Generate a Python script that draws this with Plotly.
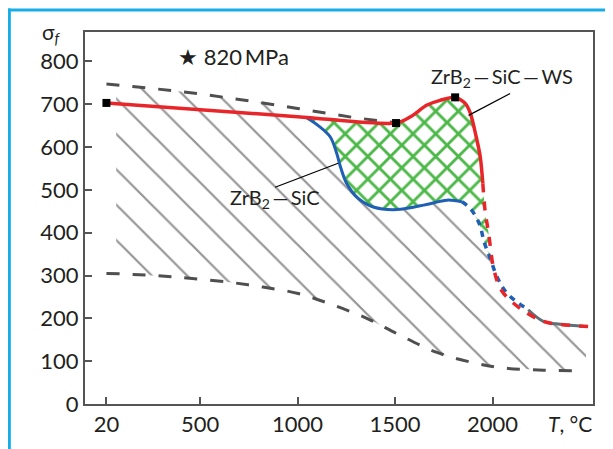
import plotly.graph_objects as go

# ---- data ----
x_ticks = [20, 500, 1000, 1500, 2000]
y_ticks = [0, 100, 200, 300, 400, 500, 600, 700, 800]

upper_T = [20, 270, 500, 750, 1000, 1300, 1500]
upper_v = [747, 736, 724, 708, 690, 668, 657]

upper_tail_T = [2183, 2260, 2347, 2475]
upper_tail_v = [220, 193, 186, 181]

lower_T = [20, 270, 460, 655, 822, 1003, 1177, 1355, 1515, 1711, 1896, 2060, 2262, 2466]
lower_v = [305, 300, 293, 284, 273, 258, 232, 200, 163, 121, 97, 84, 79, 77]

ws_T = [20, 1000, 1505, 1577, 1664, 1731, 1808, 1860, 1886, 1916, 1937, 1950]
ws_v = [703, 671, 656, 670, 698, 709, 716, 702, 679, 624, 577, 515]

ws_dash_T = [1950, 1962, 1980, 2006, 2046, 2142, 2260, 2347, 2490]
ws_dash_v = [515, 450, 398, 316, 265, 223, 193, 186, 181]

sic_T = [1040, 1106, 1167, 1201, 1218, 1252, 1311, 1388, 1509, 1662, 1766, 1843]
sic_v = [670, 650, 624, 585, 557, 515, 480, 460, 454, 466, 476, 472]

sic_dash_T = [1843, 1885, 1932, 1957, 1988, 2024, 2075, 2183]
sic_dash_v = [472, 457, 421, 378, 340, 296, 258, 220]

markers_T = [20, 1505, 1808]
markers_v = [703, 656, 716]

FONT = "Lato"
TXT = "#231f20"

fig = go.Figure()

# ---- gray hatched band ----
hx = [70] + [t for t in upper_T[1:] if t < 1040] + sic_T + sic_dash_T[1:] + upper_tail_T[1:] \
     + [2466] + lower_T[::-1][1:-1] + [70]
hv = [740] + [v for t, v in zip(upper_T[1:], upper_v[1:]) if t < 1040] + sic_v + sic_dash_v[1:] + upper_tail_v[1:] \
     + [lower_v[-1]] + lower_v[::-1][1:-1] + [302]
fig.add_trace(go.Scatter(
    x=hx, y=hv, mode="lines", fill="toself", line=dict(width=0, shape="spline", smoothing=0.4),
    fillcolor="rgba(0,0,0,0)",
    fillpattern=dict(shape="\\", fgcolor="#969696", fgopacity=1, bgcolor="rgba(255,255,255,0)",
                     size=25, solidity=0.09),
    hoverinfo="skip", showlegend=False))

# ---- green cross-hatched region ----
gT = [t for t in ws_T if t >= 1040] + ws_dash_T[1:4]
gv = [v for t, v in zip(ws_T, ws_v) if t >= 1040] + ws_dash_v[1:4]
gT = [1040] + gT + sic_dash_T[::-1][2:] + sic_T[::-1]
gv = [670] + gv + sic_dash_v[::-1][2:] + sic_v[::-1]
fig.add_trace(go.Scatter(
    x=gT, y=gv, mode="lines", fill="toself", line=dict(width=0, shape="spline", smoothing=0.6),
    fillcolor="rgba(0,0,0,0)",
    fillpattern=dict(shape="x", fgcolor="#4cb848", fgopacity=1, bgcolor="white", size=16, solidity=0.33),
    hoverinfo="skip", showlegend=False))

# ---- dashed bounds ----
fig.add_trace(go.Scatter(x=upper_T, y=upper_v, mode="lines",
                         line=dict(color="#4f4f4f", width=3, dash="13px,13px"),
                         showlegend=False, hoverinfo="skip"))
fig.add_trace(go.Scatter(x=lower_T, y=lower_v, mode="lines",
                         line=dict(color="#4f4f4f", width=3, dash="13px,13px", shape="spline"),
                         showlegend=False, hoverinfo="skip"))
fig.add_trace(go.Scatter(x=upper_tail_T, y=upper_tail_v, mode="lines",
                         line=dict(color="#5f6f75", width=3, shape="spline"),
                         showlegend=False, hoverinfo="skip"))

# ---- ZrB2-SiC (blue) ----
fig.add_trace(go.Scatter(x=sic_T, y=sic_v, mode="lines",
                         line=dict(color="#1f5fb4", width=3, shape="spline"),
                         showlegend=False, hoverinfo="skip"))
fig.add_trace(go.Scatter(x=sic_dash_T, y=sic_dash_v, mode="lines",
                         line=dict(color="#1f5fb4", width=3.5, shape="spline", dash="6px,6px"),
                         showlegend=False, hoverinfo="skip"))

# ---- ZrB2-SiC-WS (red) ----
fig.add_trace(go.Scatter(x=ws_T, y=ws_v, mode="lines",
                         line=dict(color="#e8262a", width=3.5, shape="spline", smoothing=0.8),
                         showlegend=False, hoverinfo="skip"))
fig.add_trace(go.Scatter(x=ws_dash_T, y=ws_dash_v, mode="lines",
                         line=dict(color="#e8262a", width=3.5, shape="spline", dash="9px,9px"),
                         showlegend=False, hoverinfo="skip"))
fig.add_trace(go.Scatter(x=markers_T, y=markers_v, mode="markers",
                         marker=dict(symbol="square", size=8, color="black"),
                         showlegend=False, hoverinfo="skip"))

# ---- leader lines ----
fig.add_shape(type="line", x0=885, y0=506, x1=1208, y1=562, line=dict(color="black", width=1.2))
fig.add_shape(type="line", x0=2090, y0=725, x1=1877, y1=674, line=dict(color="black", width=1.2))

# ---- layout geometry (page pixels; page body has 8px margin) ----
OFF = 8
FW, FH = 613 - OFF, 449 - OFF
L, R, T, B = 85, 592.7, 31.5, 403.7          # plot box in page pixels
W, H = R - L, B - T
def px(x):
    return (x - L) / W
def py(y):
    return (B - y) / H

# cyan frame (as close to the page edge as the figure allows)
fig.add_shape(type="line", xref="paper", yref="paper", x0=px(OFF + 1.4), x1=px(OFF + 1.4),
              y0=py(OFF), y1=py(449), line=dict(color="#18ade6", width=3))
fig.add_shape(type="line", xref="paper", yref="paper", x0=px(OFF), x1=px(613), y0=py(OFF + 1.4),
              y1=py(OFF + 1.4), line=dict(color="#18ade6", width=3))

# ---- annotations ----
fig.add_annotation(x=884, y=481, text="ZrB<sub>2</sub>\u2009\u2014\u2009SiC", showarrow=False,
                   font=dict(family=FONT, size=20, color=TXT))
fig.add_annotation(x=2048, y=763, text="ZrB<sub>2</sub>\u2009\u2014\u2009SiC\u2009\u2014\u2009WS", showarrow=False,
                   font=dict(family=FONT, size=20, color=TXT))
fig.add_annotation(x=670, y=812, text="\u2605 820\u2009MPa", showarrow=False,
                   font=dict(family=FONT, size=22, color=TXT))
fig.add_annotation(xref="paper", yref="paper", x=px(52), y=py(33), xanchor="center", yanchor="middle",
                   text="\u03c3<sub><i>f</i></sub>",
                   showarrow=False, font=dict(family=FONT, size=21, color=TXT))
fig.add_annotation(xref="paper", yref="paper", x=px(570), y=py(423), xanchor="center", yanchor="middle",
                   text="<i>T</i>, \u00b0C",
                   showarrow=False, font=dict(family=FONT, size=21, color=TXT))

axis_common = dict(showgrid=False, zeroline=False, showline=True, linecolor="#555555", linewidth=2,
                   mirror=True, ticks="inside", ticklen=7, tickcolor="#555555", tickwidth=1.5,
                   tickfont=dict(family=FONT, size=22, color=TXT))
fig.update_xaxes(range=[-90, 2515], tickvals=x_ticks, ticktext=[str(v) for v in x_ticks], **axis_common)
fig.update_yaxes(range=[0, (B - T) / 0.4285], tickvals=y_ticks, ticktext=[str(v) for v in y_ticks], **axis_common)

fig.update_layout(width=FW, height=FH,
                  margin=dict(l=L - OFF, r=613 - R, t=T - OFF, b=449 - B),
                  plot_bgcolor="white", paper_bgcolor="white", showlegend=False)

fig.write_html("out.html")
